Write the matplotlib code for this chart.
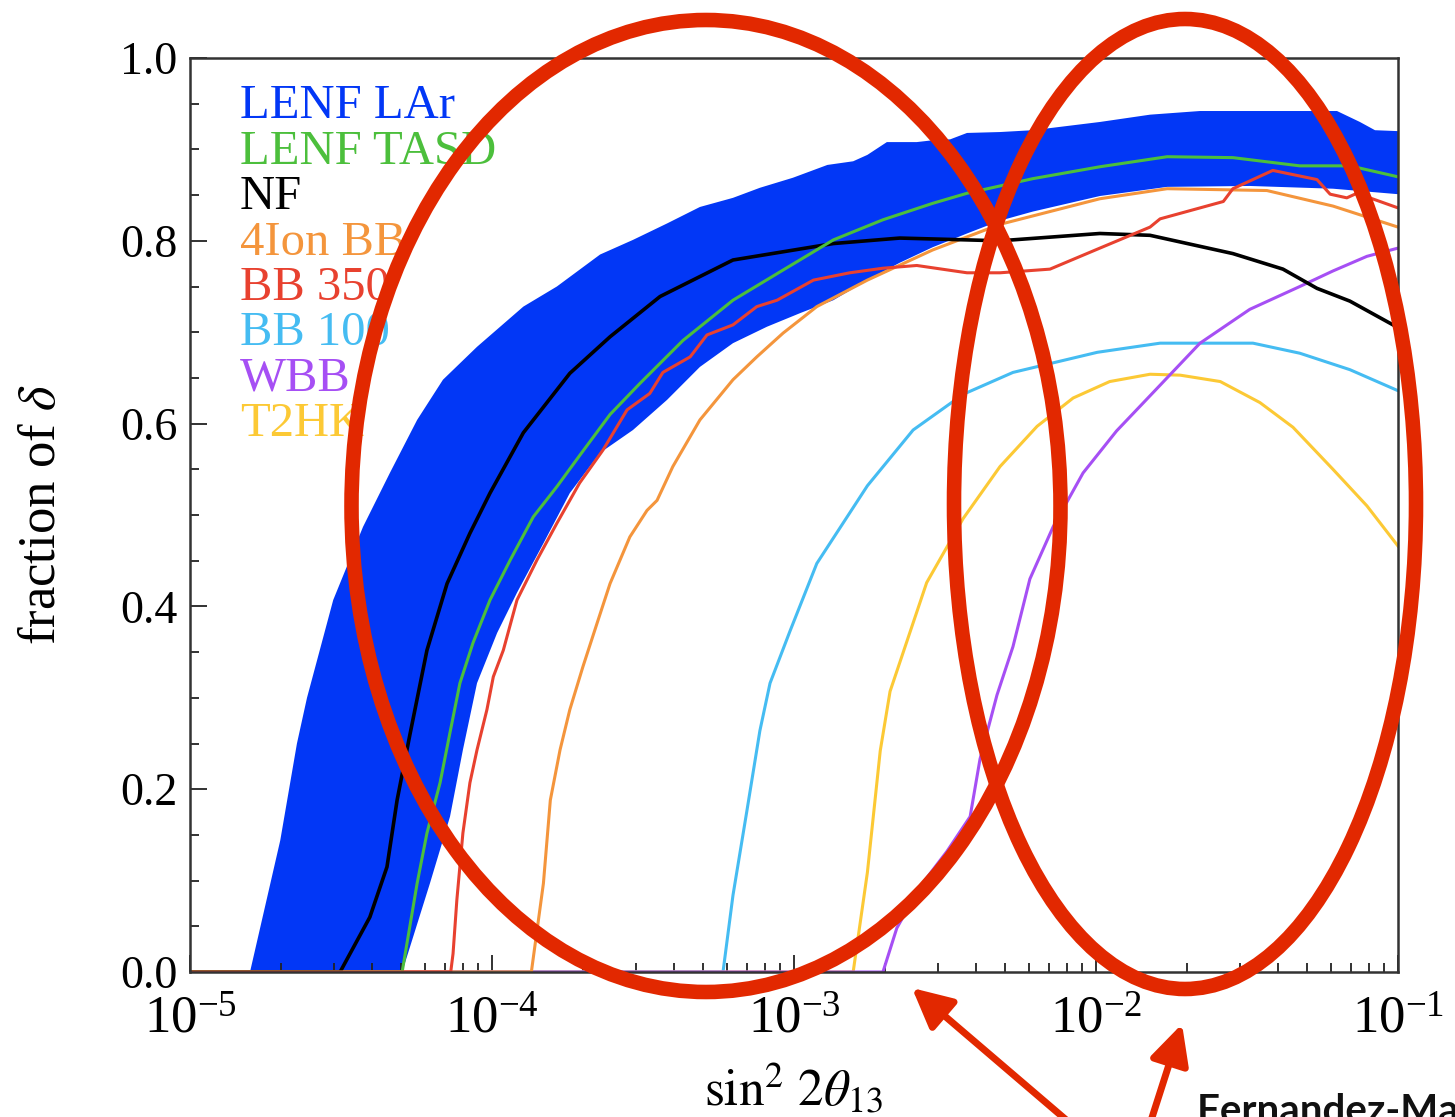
import matplotlib
matplotlib.use("Agg")
import matplotlib.pyplot as plt
from matplotlib.patches import Ellipse, FancyArrowPatch
from matplotlib.ticker import MultipleLocator, LogLocator, NullFormatter, FormatStrFormatter

# ---------------- data ----------------
band_upper_x = [1.58e-5, 1.99e-5, 2.26e-5, 2.44e-5, 2.98e-5, 3.74e-5, 4.59e-5, 5.65e-5, 6.88e-5, 8.92e-5,
                1.27e-4, 1.64e-4, 2.28e-4, 2.93e-4, 3.80e-4, 4.88e-4, 6.28e-4, 7.71e-4, 9.92e-4, 1.29e-3,
                1.57e-3, 1.75e-3, 2.03e-3, 2.55e-3, 2.88e-3, 3.29e-3, 3.74e-3, 4.81e-3, 6.18e-3, 1.03e-2,
                1.51e-2, 2.21e-2, 6.28e-2, 7.48e-2, 8.39e-2, 1.0e-1]
band_upper_y = [0.0, 0.144, 0.25, 0.30, 0.407, 0.487, 0.546, 0.604, 0.648, 0.684,
                0.728, 0.750, 0.785, 0.801, 0.819, 0.837, 0.847, 0.858, 0.869, 0.883,
                0.887, 0.894, 0.908, 0.908, 0.910, 0.911, 0.918, 0.919, 0.921, 0.930,
                0.938, 0.942, 0.942, 0.930, 0.921, 0.920]
band_lower_x = [5.04e-5, 6.23e-5, 7.26e-5, 8.01e-5, 8.92e-5, 1.04e-4, 1.21e-4, 1.48e-4, 1.81e-4, 2.28e-4,
                2.93e-4, 3.80e-4, 4.88e-4, 6.28e-4, 8.14e-4, 1.05e-3, 1.35e-3, 1.75e-3, 2.24e-3, 2.88e-3,
                3.74e-3, 4.81e-3, 6.18e-3, 1.03e-2, 1.72e-2, 3.23e-2, 6.09e-2, 1.0e-1]
band_lower_y = [0.0, 0.097, 0.17, 0.243, 0.316, 0.371, 0.415, 0.469, 0.524, 0.568,
                0.593, 0.626, 0.662, 0.688, 0.706, 0.721, 0.735, 0.757, 0.776, 0.793,
                0.808, 0.822, 0.832, 0.849, 0.859, 0.860, 0.857, 0.851]

nf_x = [1e-5, 3.14e-5, 3.94e-5, 4.49e-5, 4.85e-5, 5.35e-5, 6.09e-5, 7.10e-5, 8.45e-5, 9.85e-5,
        1.27e-4, 1.81e-4, 2.46e-4, 3.60e-4, 6.28e-4, 1.35e-3, 2.24e-3, 4.81e-3, 1.03e-2, 1.51e-2,
        2.84e-2, 4.16e-2, 5.39e-2, 6.93e-2, 1.0e-1]
nf_y = [0.0, 0.0, 0.06, 0.115, 0.188, 0.26, 0.352, 0.425, 0.48, 0.524,
        0.59, 0.655, 0.695, 0.739, 0.779, 0.797, 0.803, 0.800, 0.808, 0.806,
        0.786, 0.769, 0.748, 0.734, 0.705]

tasd_x = [1e-5, 5.04e-5, 5.65e-5, 6.09e-5, 6.73e-5, 7.26e-5, 7.83e-5, 8.65e-5, 9.85e-5, 1.15e-4,
          1.37e-4, 1.64e-4, 1.95e-4, 2.46e-4, 3.09e-4, 4.29e-4, 6.28e-4, 9.20e-4, 1.35e-3, 1.97e-3,
          2.88e-3, 3.74e-3, 6.18e-3, 1.03e-2, 1.72e-2, 2.84e-2, 4.73e-2, 6.93e-2, 1.0e-1]
tasd_y = [0.0, 0.0, 0.097, 0.152, 0.207, 0.262, 0.316, 0.36, 0.407, 0.451,
          0.498, 0.531, 0.565, 0.610, 0.644, 0.691, 0.735, 0.768, 0.801, 0.823,
          0.841, 0.852, 0.868, 0.881, 0.892, 0.891, 0.882, 0.882, 0.870]

bb350_x = [1e-5, 7.30e-5, 7.43e-5, 7.65e-5, 8.01e-5, 8.45e-5, 8.92e-5, 9.62e-5, 1.01e-4, 1.09e-4,
           1.21e-4, 1.41e-4, 1.64e-4, 1.95e-4, 2.33e-4, 2.80e-4, 3.33e-4, 3.68e-4, 4.53e-4, 5.15e-4,
           6.28e-4, 7.53e-4, 8.79e-4, 1.16e-3, 1.53e-3, 1.97e-3, 2.55e-3, 3.74e-3, 4.81e-3, 7.04e-3,
           1.03e-2, 1.51e-2, 1.63e-2, 2.64e-2, 2.84e-2, 3.85e-2, 5.39e-2, 5.96e-2, 6.77e-2, 7.31e-2,
           1.0e-1]
bb350_y = [0.0, 0.0, 0.02, 0.079, 0.152, 0.207, 0.243, 0.287, 0.323, 0.352,
           0.407, 0.451, 0.491, 0.535, 0.571, 0.615, 0.633, 0.656, 0.673, 0.697,
           0.708, 0.728, 0.735, 0.757, 0.765, 0.770, 0.773, 0.765, 0.765, 0.769,
           0.792, 0.815, 0.824, 0.843, 0.857, 0.877, 0.867, 0.851, 0.847, 0.852,
           0.836]

ion4_x = [1e-5, 1.35e-4, 1.48e-4, 1.56e-4, 1.68e-4, 1.81e-4, 2.00e-4, 2.23e-4, 2.46e-4, 2.86e-4,
          3.26e-4, 3.52e-4, 3.97e-4, 4.88e-4, 6.28e-4, 7.53e-4, 9.20e-4, 1.19e-3, 1.75e-3, 2.88e-3,
          4.81e-3, 1.03e-2, 1.72e-2, 3.68e-2, 6.09e-2, 1.0e-1]
ion4_y = [0.0, 0.0, 0.097, 0.188, 0.243, 0.287, 0.334, 0.382, 0.425, 0.476,
          0.505, 0.516, 0.553, 0.604, 0.648, 0.673, 0.699, 0.728, 0.757, 0.790,
          0.818, 0.846, 0.857, 0.855, 0.838, 0.815]

bb100_x = [1e-5, 5.82e-4, 6.28e-4, 6.98e-4, 7.71e-4, 8.33e-4, 9.70e-4, 1.19e-3, 1.75e-3, 2.48e-3,
           3.63e-3, 5.31e-3, 1.01e-2, 1.63e-2, 3.31e-2, 4.73e-2, 6.93e-2, 1.0e-1]
bb100_y = [0.0, 0.0, 0.084, 0.176, 0.264, 0.316, 0.373, 0.447, 0.532, 0.593,
           0.632, 0.656, 0.678, 0.688, 0.688, 0.677, 0.659, 0.636]

t2hk_x = [1e-5, 1.57e-3, 1.75e-3, 1.93e-3, 2.08e-3, 2.75e-3, 3.63e-3, 4.81e-3, 6.38e-3, 8.40e-3,
          1.11e-2, 1.51e-2, 1.90e-2, 2.58e-2, 3.49e-2, 4.49e-2, 6.09e-2, 7.89e-2, 1.0e-1]
t2hk_y = [0.0, 0.0, 0.109, 0.242, 0.307, 0.426, 0.496, 0.553, 0.597, 0.628,
          0.646, 0.654, 0.653, 0.646, 0.623, 0.596, 0.550, 0.510, 0.466]

wbb_x = [1e-5, 1.97e-3, 2.19e-3, 2.61e-3, 3.21e-3, 3.83e-3, 4.13e-3, 4.70e-3, 5.31e-3, 6.04e-3,
         7.21e-3, 9.06e-3, 1.17e-2, 1.63e-2, 2.21e-2, 3.23e-2, 4.73e-2, 6.09e-2, 7.89e-2, 1.0e-1]
wbb_y = [0.0, 0.0, 0.048, 0.093, 0.132, 0.17, 0.233, 0.303, 0.356, 0.43,
         0.487, 0.546, 0.592, 0.642, 0.688, 0.725, 0.750, 0.767, 0.783, 0.792]

legend_labels = ["LENF LAr", "LENF TASD", "NF", "4Ion BB", "BB 350", "BB 100", "WBB", "T2HK"]
x_ticks = [1e-5, 1e-4, 1e-3, 1e-2, 1e-1]
y_ticks = [0.0, 0.2, 0.4, 0.6, 0.8, 1.0]

# ---------------- styles ----------------
C_LAR = "#0237f6"
C_TASD = "#4cbf3c"
C_NF = "#000000"
C_ION = "#f4953c"
C_350 = "#e8412f"
C_100 = "#45bcf2"
C_WBB = "#a64ff4"
C_T2HK = "#fcc935"
legend_colors = [C_LAR, C_TASD, C_NF, C_ION, C_350, C_100, C_WBB, C_T2HK]
MARK = "#e22800"

plt.rcParams["font.family"] = ["Liberation Serif", "DejaVu Serif"]
plt.rcParams["mathtext.fontset"] = "stix"

W, H = 1455, 1117
fig = plt.figure(figsize=(W / 100, H / 100), dpi=100)
ax = fig.add_axes([190 / W, (H - 972) / H, 1208 / W, 914 / H])

ax.fill(band_upper_x + band_lower_x[::-1], band_upper_y + band_lower_y[::-1],
        color=C_LAR, lw=0, zorder=1)

ax.plot(bb100_x, bb100_y, color=C_100, lw=2.2, zorder=2)
ax.plot(t2hk_x, t2hk_y, color=C_T2HK, lw=2.2, zorder=2)
ax.plot(wbb_x, wbb_y, color=C_WBB, lw=2.2, zorder=2)
ax.plot(ion4_x, ion4_y, color=C_ION, lw=2.2, zorder=2)
ax.plot(nf_x, nf_y, color=C_NF, lw=2.6, zorder=2)
ax.plot(tasd_x, tasd_y, color=C_TASD, lw=2.2, zorder=2)
ax.plot(bb350_x, bb350_y, color=C_350, lw=2.2, zorder=2)

ax.set_xscale("log")
ax.set_xlim(1e-5, 1e-1)
ax.set_ylim(0, 1)
ax.set_xticks(x_ticks)
ax.xaxis.set_minor_locator(LogLocator(base=10, subs=range(2, 10)))
ax.xaxis.set_minor_formatter(NullFormatter())
ax.set_yticks(y_ticks)
ax.yaxis.set_minor_locator(MultipleLocator(0.05))
ax.yaxis.set_major_formatter(FormatStrFormatter("%.1f"))
ax.tick_params(which="both", direction="in", top=False, right=False, width=1.3, color="#222222")
ax.tick_params(which="major", length=12)
ax.tick_params(which="minor", length=6.5)
ax.tick_params(axis="y", which="major", pad=9, labelsize=33)
ax.tick_params(axis="x", which="major", pad=17, labelsize=38)
for s in ax.spines.values():
    s.set_linewidth(1.8)
    s.set_color("#333333")
    s.set_zorder(5)

ax.set_ylabel(r"fraction of $\delta$", fontsize=38)
ax.yaxis.set_label_coords(-0.103, 0.5)
ax.set_xlabel(r"$\mathrm{sin}^2\ 2\theta_{13}$", fontsize=37)
ax.xaxis.set_label_coords(0.5, -0.098)

for i, (lab, col) in enumerate(zip(legend_labels, legend_colors)):
    ax.text(0.0414, 0.934 - 0.0497 * i, lab, color=col, fontsize=35,
            transform=ax.transAxes, ha="left", va="baseline", zorder=4)

# ---------------- overlay annotations ----------------
def fx(px):
    return px / W

def fy(py):
    return 1 - py / H

fig.add_artist(Ellipse((fx(706), fy(506)), 709 / W, 972 / H, transform=fig.transFigure,
                       fill=False, ec=MARK, lw=10.5, zorder=10))
fig.add_artist(Ellipse((fx(1185), fy(504)), 462 / W, 970 / H, transform=fig.transFigure,
                       fill=False, ec=MARK, lw=10.5, zorder=10))
for tail, tip in [((1078, 1130), (912, 988)), ((1148, 1130), (1182, 1024))]:
    fig.add_artist(FancyArrowPatch((fx(tail[0]), fy(tail[1])), (fx(tip[0]), fy(tip[1])),
                                   transform=fig.transFigure,
                                   arrowstyle="-|>,head_length=24,head_width=12",
                                   mutation_scale=1, lw=5, color=MARK, shrinkA=0, shrinkB=0,
                                   zorder=10))

fig.text(fx(1197), fy(1123), "Fernandez-Martinez et al.", fontsize=29,
         family=["Lato", "DejaVu Sans"], weight="bold", ha="left", va="baseline", color="#111111")

fig.savefig("out.png", dpi=100)
